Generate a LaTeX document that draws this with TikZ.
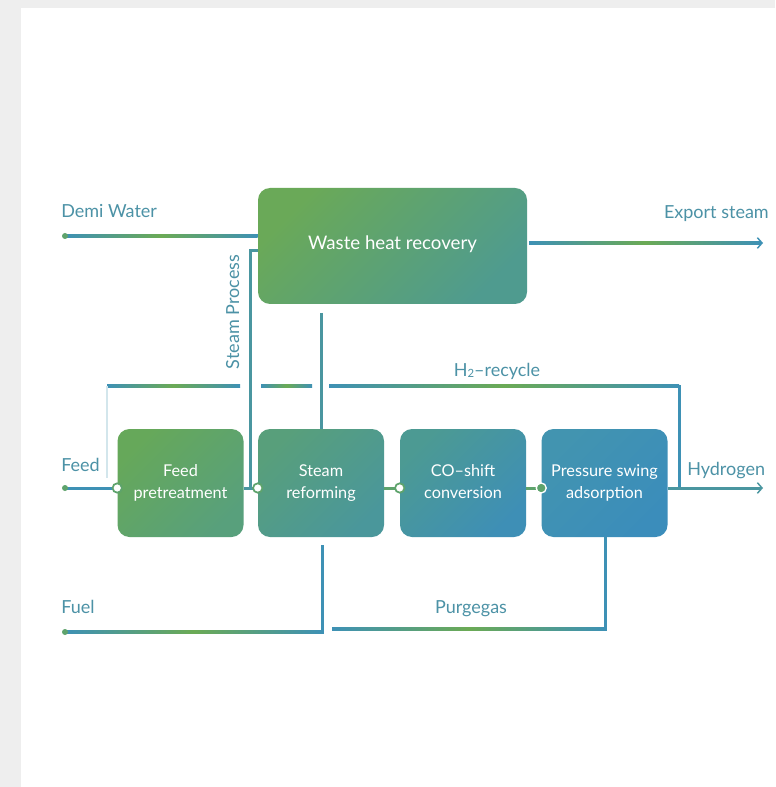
\documentclass[tikz,border=0pt]{standalone}
\usepackage{fontspec}
\setmainfont{Lato}
\usetikzlibrary{arrows.meta,calc}
\definecolor{bggray}{HTML}{EEEEEE}
\definecolor{lb}{HTML}{3E91B5}
\definecolor{lg}{HTML}{6BAA55}
\definecolor{lt}{HTML}{4A96A0}
\definecolor{lfaint}{HTML}{D3E6EC}
\definecolor{lbl}{HTML}{4C92A6}
\definecolor{jg}{HTML}{5EA36C}
\definecolor{whrA}{HTML}{6AA958}\definecolor{whrB}{HTML}{4F9B8F}
\definecolor{fpA}{HTML}{66A85A}\definecolor{fpB}{HTML}{58A07C}
\definecolor{srA}{HTML}{589F7B}\definecolor{srB}{HTML}{4A979B}
\definecolor{coA}{HTML}{4C9A93}\definecolor{coB}{HTML}{3E8FB6}
\definecolor{psA}{HTML}{4294B0}\definecolor{psB}{HTML}{3B8DBB}
\newcommand\gl[2]{\shade[left color=lb, right color=lb, middle color=lg] ($(#1)+(0,-1.5)$) rectangle ($(#2)+(0,1.5)$);}
\newcommand\bt[2]{\begin{tabular}{@{}c@{}}\rule{0pt}{\dimexpr0.7\baselineskip+3pt\relax}#1\\#2\end{tabular}}
\begin{document}
\begin{tikzpicture}[x=0.75pt,y=-0.75pt,
  box/.style={rounded corners=9pt, minimum width=94.5pt, minimum height=81pt, text=white, align=center,
    font=\fontsize{12.2}{16.5}\selectfont, inner sep=0pt},
  conn/.style={draw=lb, line width=2.25pt},
  faint/.style={draw=lfaint, line width=1.5pt},
  lab/.style={text=lbl, font=\fontsize{13.5}{16}\selectfont, inner sep=0pt},
  jn/.style={circle, draw=jg, fill=white, line width=1.3pt, minimum size=7pt, inner sep=0pt},
  jnf/.style={circle, draw=white, fill=jg, line width=1pt, minimum size=7.5pt, inner sep=0pt},
  dot/.style={circle, fill=jg, minimum size=4.5pt, inner sep=0pt},
  tip/.style={-{Straight Barb[length=3.5pt,width=8pt,line width=1.1pt]}}]
\useasboundingbox (0,0) rectangle (775,787);
\fill[bggray] (0,0) rectangle (775,787);
\fill[white] (21,8) rectangle (775,787);

% boxes
\node[box, minimum width=201.75pt, minimum height=87pt, top color=whrA, bottom color=whrB, shading angle=45,
  font=\fontsize{14}{18}\selectfont] (whr) at (392.5,246) {\raisebox{4.5pt}{Waste heat recovery}};
\node[box, top color=fpA, bottom color=fpB, shading angle=45] (fp) at (180.5,483) {\bt{Feed}{pretreatment}};
\node[box, top color=srA, bottom color=srB, shading angle=45] (sr) at (321,483) {\bt{Steam}{reforming}};
\node[box, top color=coA, bottom color=coB, shading angle=45] (co) at (463,483) {\bt{CO–shift}{conversion}};
\node[box, top color=psA, bottom color=psB, shading angle=45] (psa) at (604.5,483) {\bt{Pressure swing}{adsorption}};

% coordinates
\coordinate (dw) at (65,236);
\coordinate (es0) at (529,243);
\coordinate (es1) at (763,243);
\coordinate (fd) at (65,488);
\coordinate (hy) at (763,488);
\coordinate (hj) at (679,488);
\coordinate (s1) at (250,251);
\coordinate (s2) at (250,488);
\coordinate (w1) at (321,313);
\coordinate (r1) at (679,386);
\coordinate (r2) at (329,386);
\coordinate (r3) at (312,386);
\coordinate (r4) at (261,386);
\coordinate (r5) at (240,386);
\coordinate (r6) at (107,386);
\coordinate (r7) at (107,478);
\coordinate (fu) at (65,632);
\coordinate (f1) at (322,632);
\coordinate (f2) at (322,545);
\coordinate (p0) at (332,629);
\coordinate (p1) at (605,629);

% connectors
\draw[conn] (dw) -- (dw -| whr.west);
\gl{dw}{dw -| whr.west}
\draw[conn, tip] (es0) -- (es1);
\gl{es0}{$(es1)+(-3,0)$}
\draw[conn, draw=lt] (whr.west |- s1) -- (s1) -- (s2);
\draw[conn, draw=lt] (w1) -- (w1 |- sr.north);
\draw[conn] (hj) -- (r1) -- (r2);
\gl{r2}{r1}
\draw[conn] (r3) -- (r4);
\gl{r4}{r3}
\draw[conn] (r5) -- (r6);
\gl{r6}{r5}
\draw[faint] (r6) -- (r7);
\draw[conn] (fd) -- (fd -| fp.west);
\draw[conn, draw=lt] (fp.east |- fd) -- (sr.west |- fd);
\draw[conn, draw=jg] (sr.east |- fd) -- (co.west |- fd);
\draw[conn, draw=jg] (co.east |- fd) -- (psa.west |- fd);
\draw[conn, draw=lt, tip] (psa.east |- fd) -- (hy);
\draw[conn] (fu) -- (f1) -- (f2);
\gl{fu}{f1}
\draw[conn] (p0) -- (p1) -- (p1 |- psa.south);
\gl{p0}{p1}

% junction marks
\node[dot] (dwd) at (dw) {};
\node[dot] (fdd) at (fd) {};
\node[dot] (fud) at (fu) {};
\node[jn] (j1) at (fd -| fp.west) {};
\node[jn] (j2) at (fd -| sr.west) {};
\node[jn] (j3) at (fd -| co.west) {};
\node[jnf] (j4) at (fd -| psa.west) {};

% labels
\node[lab, anchor=base west] (tdw) at (61,218) {Demi Water};
\node[lab, anchor=base east] (tes) at (769,219) {Export steam};
\node[lab, anchor=base west] (tfd) at (61,471) {Feed};
\node[lab, anchor=base west] (thy) at (687,475) {Hydrogen};
\node[lab, anchor=base west] (tfu) at (61,613) {Fuel};
\node[lab, anchor=base] (tpg) at (471,613) {Purgegas};
\node[lab, anchor=base] (th2) at (497,376) {H\raisebox{-0.2ex}{\fontsize{8.5}{9}\selectfont 2}–recycle};
\node[lab, rotate=90, anchor=base] (tsp) at (239,312) {Steam Process};
\end{tikzpicture}
\end{document}
